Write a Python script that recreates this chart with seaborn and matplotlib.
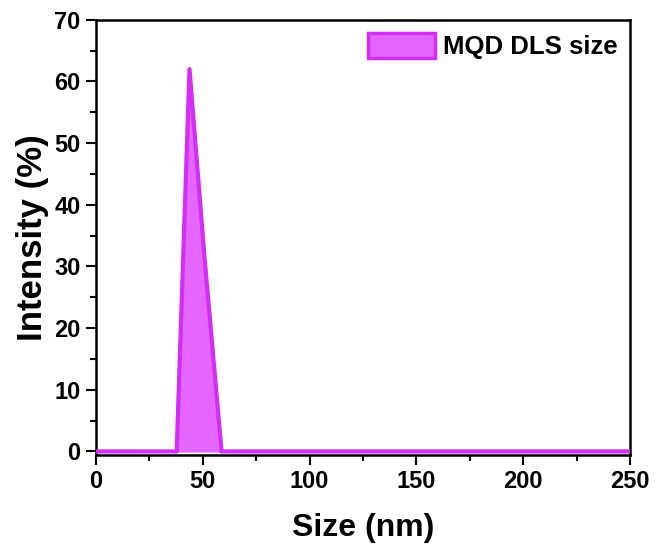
import numpy as np
import pandas as pd
import seaborn as sns
import matplotlib.pyplot as plt
from matplotlib.patches import Patch
from matplotlib.ticker import MultipleLocator

# DLS intensity distribution
size_nm = [0, 32.7, 37.8, 43.8, 50.7, 58.8, 68.1, 250]
intensity = [0, 0, 0, 62, 32, 0, 0, 0]

df = pd.DataFrame({"size": size_nm, "intensity": intensity})

sns.set_style("ticks")
plt.rcParams['font.family'] = ['Liberation Sans', 'DejaVu Sans']
plt.rcParams['font.weight'] = 'bold'
plt.rcParams['text.color'] = 'black'
plt.rcParams['axes.labelcolor'] = 'black'
plt.rcParams['xtick.color'] = 'black'
plt.rcParams['ytick.color'] = 'black'

fill_col = "#E466FF"
edge_col = "#D22EF5"

fig = plt.figure(figsize=(6.57, 5.51), dpi=100)
ax = fig.add_axes([0.146, 0.174, 0.813, 0.79])

ax.fill_between(df["size"], df["intensity"], color=fill_col, zorder=2)
sns.lineplot(data=df, x="size", y="intensity", ax=ax, color=edge_col,
             linewidth=3, zorder=3, sort=False)

ax.set_xlim(0, 250)
ax.set_ylim(-0.6, 70)
ax.xaxis.set_major_locator(MultipleLocator(50))
ax.xaxis.set_minor_locator(MultipleLocator(25))
ax.yaxis.set_major_locator(MultipleLocator(10))
ax.yaxis.set_minor_locator(MultipleLocator(5))
ax.tick_params(which='major', direction='out', length=7, width=1.5,
               labelsize=17, pad=4)
ax.tick_params(which='minor', direction='out', length=4, width=1.5)
for lab in ax.get_xticklabels() + ax.get_yticklabels():
    lab.set_fontweight('bold')
for sp in ax.spines.values():
    sp.set_linewidth(1.8)
    sp.set_color('black')

ax.set_xlabel("Size (nm)", fontsize=23, fontweight='bold', labelpad=14)
ax.set_ylabel("Intensity (%)", fontsize=25, fontweight='bold', labelpad=4)

handle = Patch(facecolor=fill_col, edgecolor=edge_col, linewidth=2.5)
ax.legend([handle], ["MQD DLS size"], loc='upper right', frameon=False,
          prop={'weight': 'bold', 'size': 18.5}, handlelength=2.6,
          handleheight=1.15, borderaxespad=0.3, handletextpad=0.3,
          borderpad=0.2)

fig.savefig("out.png", dpi=100)
